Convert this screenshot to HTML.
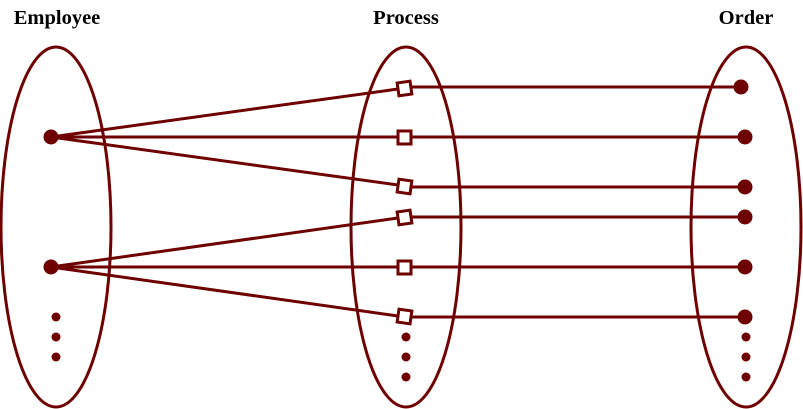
<!DOCTYPE html>
<html><head><meta charset="utf-8"><style>body{margin:0;background:#fff}svg{display:block}text{font-family:"Liberation Serif",serif;font-weight:bold;font-size:20.5px;fill:#000}</style></head>
<body>
<svg width="803" height="409" viewBox="0 0 803 409">
<g fill="none" stroke="#6e0000" stroke-width="3">
<ellipse cx="56" cy="227" rx="55" ry="180"/>
<ellipse cx="406" cy="227" rx="55" ry="180"/>
<ellipse cx="746" cy="227" rx="55" ry="180"/>
</g>
<g stroke="#6e0000" stroke-width="3">
<line x1="51" y1="137" x2="398" y2="89"/>
<line x1="51" y1="137" x2="398" y2="137"/>
<line x1="51" y1="137" x2="398" y2="185"/>
<line x1="51" y1="267" x2="398" y2="218"/>
<line x1="51" y1="267" x2="398" y2="267"/>
<line x1="51" y1="267" x2="398" y2="316"/>
<line x1="411" y1="87" x2="741" y2="87"/>
<line x1="411" y1="137" x2="745" y2="137"/>
<line x1="411" y1="187" x2="745" y2="187"/>
<line x1="411" y1="217" x2="745" y2="217"/>
<line x1="411" y1="267" x2="745" y2="267"/>
<line x1="411" y1="317" x2="745" y2="317"/>
</g>
<g fill="#fff" stroke="#6e0000" stroke-width="3">
<rect x="398" y="82" width="13" height="13" transform="rotate(-8 404.5 88.5)"/>
<rect x="398" y="131" width="13" height="13"/>
<rect x="398" y="180" width="13" height="13" transform="rotate(8 404.5 186.5)"/>
<rect x="398" y="211" width="13" height="13" transform="rotate(-8 404.5 217.5)"/>
<rect x="398" y="261" width="13" height="13"/>
<rect x="398" y="310" width="13" height="13" transform="rotate(8 404.5 316.5)"/>
</g>
<g fill="#6e0000">
<circle cx="51" cy="137" r="7.5"/><circle cx="51" cy="267" r="7.5"/>
<circle cx="56" cy="317" r="4.5"/><circle cx="56" cy="337" r="4.5"/><circle cx="56" cy="357" r="4.5"/>
<circle cx="406" cy="337" r="4.5"/><circle cx="406" cy="357" r="4.5"/><circle cx="406" cy="377" r="4.5"/>
<circle cx="741" cy="87" r="7.5"/><circle cx="745" cy="137" r="7.5"/><circle cx="745" cy="187" r="7.5"/>
<circle cx="745" cy="217" r="7.5"/><circle cx="745" cy="267" r="7.5"/><circle cx="745" cy="317" r="7.5"/>
<circle cx="746" cy="337" r="4.5"/><circle cx="746" cy="357" r="4.5"/><circle cx="746" cy="377" r="4.5"/>
</g>
<text x="57" y="24" text-anchor="middle">Employee</text>
<text x="406" y="24" text-anchor="middle">Process</text>
<text x="746" y="24" text-anchor="middle">Order</text>
</svg>
</body></html>
